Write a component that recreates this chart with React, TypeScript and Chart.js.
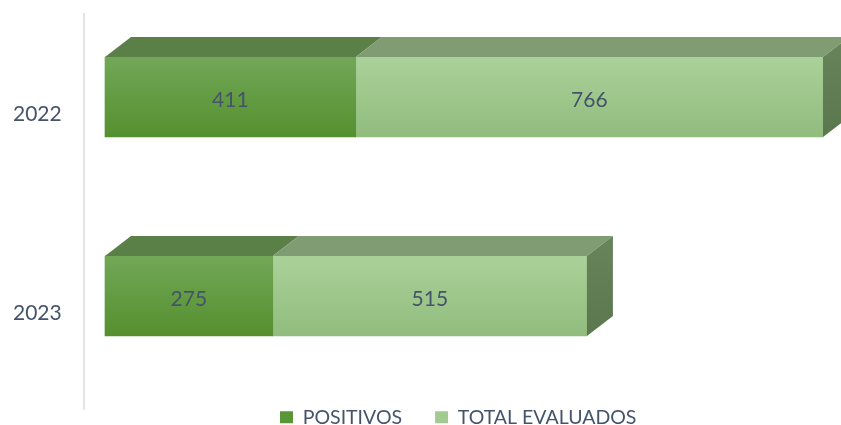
import React, { useEffect, useRef } from 'react';
import { Chart, registerables } from 'chart.js';

Chart.register(...registerables);

// ---- data ----
const years = ['2022', '2023'];
const seriesNames = ['POSITIVOS', 'TOTAL EVALUADOS'];
const positivos = [411, 275];
const totalEvaluados = [766, 515];

// ---- styles ----
const FONT = 'Lato, "Open Sans", sans-serif';
const TEXT = '#44546a';
const DX = 26; // 3D depth, x
const DY = 20; // 3D depth, y
const palette = [
  { top: '#72a757', bottom: '#55902f', roof: '#5a7f47', side: '#4f7a3a', sideDark: '#4f7a3a', legend: '#5b9636' },
  { top: '#aad199', bottom: '#92bc7e', roof: '#7f9c73', side: '#67845b', sideDark: '#5a774e', legend: '#a3cb91' },
];
const AXIS_LINE = { x: 84, top: 13, bottom: 410, color: '#d9dee6' };

function gradientFor(di: number) {
  return (c: any) => {
    const chart = c.chart;
    const p = palette[di];
    if (c.type !== 'data' || !chart.chartArea || !chart.scales.y) return p.bottom;
    const py = chart.scales.y.getPixelForValue(c.dataIndex);
    const g = chart.ctx.createLinearGradient(0, py - 40, 0, py + 40);
    g.addColorStop(0, p.top);
    g.addColorStop(1, p.bottom);
    return g;
  };
}

const axisLinePlugin = {
  id: 'axisLine',
  beforeDatasetsDraw(chart: any) {
    const ctx = chart.ctx;
    ctx.save();
    ctx.strokeStyle = AXIS_LINE.color;
    ctx.lineWidth = 1.5;
    ctx.beginPath();
    ctx.moveTo(AXIS_LINE.x, AXIS_LINE.top);
    ctx.lineTo(AXIS_LINE.x, AXIS_LINE.bottom);
    ctx.stroke();
    ctx.restore();
  },
};

const threeDPlugin = {
  id: 'threeD',
  afterDatasetsDraw(chart: any) {
    const ctx = chart.ctx;
    const metas = chart.getSortedVisibleDatasetMetas();
    ctx.save();
    metas.forEach((meta: any, di: number) => {
      const p = palette[di];
      meta.data.forEach((el: any) => {
        const { x, y, base, height } = el.getProps(['x', 'y', 'base', 'height'], true);
        const top = y - height / 2;
        const bottom = y + height / 2;
        const x0 = Math.min(x, base);
        const x1 = Math.max(x, base);
        // roof
        ctx.fillStyle = p.roof;
        ctx.beginPath();
        ctx.moveTo(x0, top);
        ctx.lineTo(x1, top);
        ctx.lineTo(x1 + DX, top - DY);
        ctx.lineTo(x0 + DX, top - DY);
        ctx.closePath();
        ctx.fill();
        // side at the end of the stack
        if (di === metas.length - 1) {
          const g = ctx.createLinearGradient(0, top - DY, 0, bottom);
          g.addColorStop(0, p.side);
          g.addColorStop(1, p.sideDark);
          ctx.fillStyle = g;
          ctx.beginPath();
          ctx.moveTo(x1, top);
          ctx.lineTo(x1 + DX, top - DY);
          ctx.lineTo(x1 + DX, bottom - DY);
          ctx.lineTo(x1, bottom);
          ctx.closePath();
          ctx.fill();
        }
      });
    });
    // value labels
    ctx.font = `21px ${FONT}`;
    ctx.fillStyle = TEXT;
    ctx.textAlign = 'center';
    ctx.textBaseline = 'middle';
    metas.forEach((meta: any) => {
      const ds = chart.data.datasets[meta.index];
      meta.data.forEach((el: any, i: number) => {
        const { x, y, base } = el.getProps(['x', 'y', 'base'], true);
        ctx.fillText(String(ds.data[i].x), (x + base) / 2, y + 3);
      });
    });
    ctx.restore();
  },
};

export default function App() {
  const ref = useRef<HTMLCanvasElement>(null);

  useEffect(() => {
    const chart = new Chart(ref.current as HTMLCanvasElement, {
      type: 'bar',
      data: {
        datasets: [
          {
            label: seriesNames[0],
            data: positivos.map((v, i) => ({ x: v, y: i })),
            stack: 's',
            backgroundColor: gradientFor(0),
            borderWidth: 0,
            barThickness: 80,
            clip: false,
          },
          {
            label: seriesNames[1],
            data: totalEvaluados.map((v, i) => ({ x: v, y: i })),
            stack: 's',
            backgroundColor: gradientFor(1),
            borderWidth: 0,
            barThickness: 80,
            clip: false,
          },
        ],
      } as any,
      options: {
        indexAxis: 'y',
        responsive: false,
        animation: false,
        layout: { padding: { top: 13, left: 13, right: 29.6, bottom: 0 } },
        scales: {
          x: { display: false, min: 0, max: 1158, stacked: true },
          y: {
            type: 'linear',
            reverse: true,
            offset: false,
            min: -0.42211,
            max: 1.39447,
            afterBuildTicks: (s: any) => {
              s.ticks = years.map((_, i) => ({ value: i }));
            },
            afterFit: (s: any) => {
              s.width = 92;
            },
            grid: { display: false, drawTicks: false },
            border: { display: false },
            ticks: {
              autoSkip: false,
              padding: 0,
              crossAlign: 'far',
              labelOffset: 17,
              color: TEXT,
              font: { family: FONT, size: 21 },
              callback: (v: any) => years[v] ?? '',
            },
          },
        } as any,
        plugins: {
          tooltip: { enabled: false },
          legend: {
            position: 'bottom',
            fullSize: false,
            labels: {
              boxWidth: 13,
              boxHeight: 12,
              padding: 33,
              color: TEXT,
              font: { family: FONT, size: 19.5 },
              generateLabels: (c: any) =>
                c.data.datasets.map((ds: any, i: number) => ({
                  text: ds.label,
                  fillStyle: palette[i].legend,
                  strokeStyle: palette[i].legend,
                  lineWidth: 0,
                  hidden: false,
                  datasetIndex: i,
                  fontColor: TEXT,
                })),
            },
          },
        },
      } as any,
      plugins: [axisLinePlugin, threeDPlugin],
    });
    return () => chart.destroy();
  }, []);

  return (
    <div
      style={{
        position: 'absolute',
        left: 0,
        top: 0,
        width: 841,
        height: 425,
        overflow: 'hidden',
        background: '#ffffff',
      }}
    >
      <canvas ref={ref} width={841} height={437} style={{ display: 'block', width: 841, height: 437 }} />
    </div>
  );
}
